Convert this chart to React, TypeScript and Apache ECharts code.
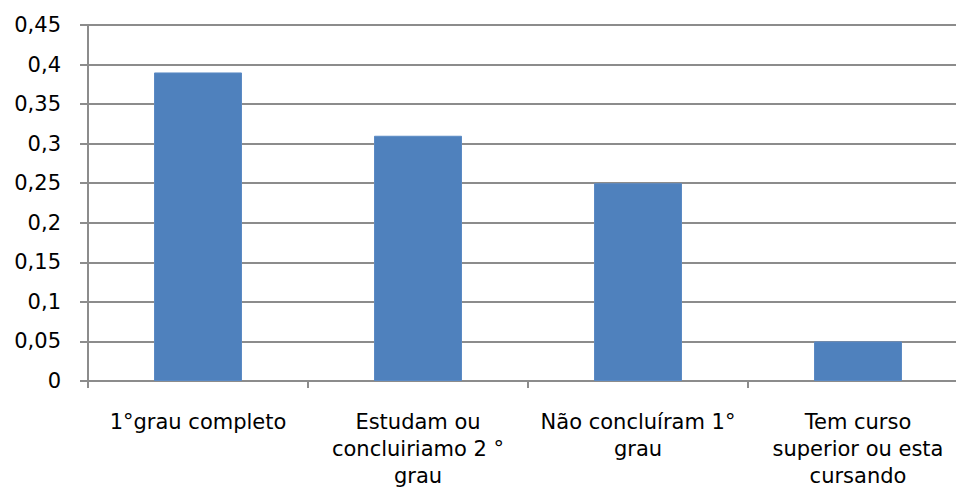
import React, { useEffect, useRef } from "react";
import * as echarts from "echarts";

const categories = [
  "1°grau completo",
  "Estudam ou\nconcluiriamo 2 °\ngrau",
  "Não concluíram 1°\ngrau",
  "Tem curso\nsuperior ou esta\ncursando",
];
const values = [0.39, 0.31, 0.25, 0.05];
const yMin = 0;
const yMax = 0.45;
const yInterval = 0.05;

export default function App() {
  const ref = useRef<HTMLDivElement>(null);
  useEffect(() => {
    if (!ref.current) return;
    const chart = echarts.init(ref.current, undefined, { renderer: "svg" });
    const font = "'DejaVu Sans', sans-serif";
    chart.setOption({
      animation: false,
      grid: { left: 88, top: 25, right: 0, bottom: 108, containLabel: false },
      xAxis: {
        type: "category",
        data: categories,
        axisLine: { lineStyle: { color: "#8c8c8c", width: 2 } },
        axisTick: { show: true, length: 7, lineStyle: { color: "#8c8c8c", width: 2 } },
        axisLabel: {
          interval: 0,
          margin: 27,
          color: "#000",
          fontFamily: font,
          fontSize: 21,
          lineHeight: 27,
          align: "center",
        },
      },
      yAxis: {
        type: "value",
        min: yMin,
        max: yMax,
        interval: yInterval,
        axisLine: { show: true, lineStyle: { color: "#8c8c8c", width: 2 } },
        axisTick: { show: true, length: 8, lineStyle: { color: "#8c8c8c", width: 2 } },
        splitLine: { show: true, lineStyle: { color: "#8c8c8c", width: 2 } },
        axisLabel: {
          margin: 27,
          color: "#000",
          fontFamily: font,
          fontSize: 21,
          formatter: (v: number) => String(+v.toFixed(2)).replace(".", ","),
        },
      },
      series: [
        {
          type: "bar",
          data: values,
          barCategoryGap: "60%",
          itemStyle: { color: "#4f81bd", borderColor: "#5b8ac4", borderWidth: 1 },
        },
      ],
    });
    return () => chart.dispose();
  }, []);
  return (
    <div
      style={{
        position: "fixed",
        left: 0,
        top: 0,
        width: 956,
        height: 489,
        overflow: "hidden",
        background: "#fff",
      }}
    >
      <div ref={ref} style={{ width: 968, height: 489 }} />
    </div>
  );
}
